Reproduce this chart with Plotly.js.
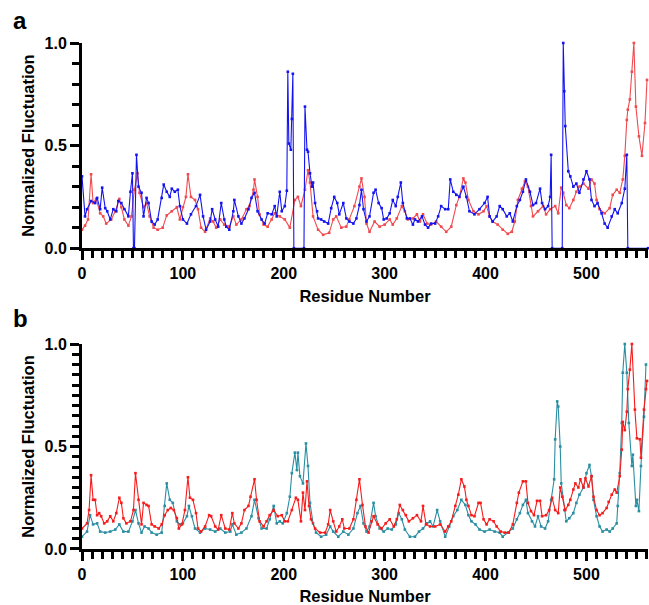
<!DOCTYPE html>
<html>
<head>
<meta charset="utf-8">
<script src="https://cdn.plot.ly/plotly-3.0.1.min.js"></script>
<style>html,body{margin:0;padding:0;background:#fff}#chart{width:649px;height:605px}</style>
</head>
<body>
<div id="chart"></div>
<script>
// Panel a: red series
const aRedX = [0,3,6,9,11,14,18,21,24,29,33,37,39,42,46,49,52,55,57,61,64,67,71,75,80,84,89,94,97,100,103,105,108,112,115,118,122,127,130,133,137,141,146,150,153,158,163,166,170,171,174,176,180,184,188,191,196,201,206,211,214,217,221,224,226,229,234,239,245,249,252,257,262,265,270,275,277,280,282,285,290,295,300,305,308,312,317,320,323,328,332,335,338,342,346,351,356,361,366,371,374,378,380,383,388,393,398,401,404,407,412,417,422,426,429,432,436,439,442,445,447,452,457,460,464,469,472,475,477,480,483,487,490,493,497,502,505,508,510,513,518,523,526,530,533,536,538,540,541,543,545,547,549,552,555,558,560];
const aRedY = [0.09,0.11,0.14,0.36,0.22,0.24,0.17,0.155,0.12,0.14,0.18,0.24,0.20,0.14,0.11,0.155,0.285,0.365,0.27,0.20,0.22,0.155,0.10,0.09,0.10,0.16,0.18,0.20,0.14,0.20,0.25,0.36,0.25,0.235,0.19,0.10,0.08,0.145,0.13,0.10,0.14,0.115,0.105,0.155,0.115,0.14,0.19,0.205,0.285,0.335,0.25,0.165,0.115,0.105,0.14,0.17,0.155,0.14,0.10,0.235,0.25,0.205,0.285,0.38,0.32,0.155,0.09,0.065,0.075,0.14,0.155,0.10,0.105,0.14,0.205,0.30,0.34,0.25,0.12,0.08,0.13,0.105,0.115,0.14,0.115,0.145,0.205,0.18,0.14,0.145,0.165,0.13,0.165,0.12,0.115,0.13,0.105,0.08,0.105,0.21,0.25,0.34,0.32,0.235,0.18,0.165,0.18,0.205,0.155,0.13,0.115,0.09,0.07,0.08,0.13,0.235,0.29,0.325,0.30,0.205,0.155,0.18,0.205,0.165,0.19,0.205,0.17,0.295,0.27,0.21,0.195,0.235,0.275,0.30,0.315,0.29,0.335,0.315,0.235,0.19,0.17,0.195,0.26,0.285,0.27,0.335,0.45,0.625,0.675,0.725,0.86,1.0,0.69,0.545,0.45,0.61,0.82];

// Panel a: blue series
const aBlueX = [0,3,5,9,13,15,18,20,23,25,28,31,34,36,39,42,46,48,50,51,52,54,56,59,61,64,66,69,72,75,79,81,84,87,89,92,95,97,100,104,108,113,117,120,123,127,129,132,135,138,141,143,146,150,151,155,158,161,165,168,171,174,178,181,184,188,191,193,196,198,201,203,204,205,207,208,209,210,220,221,223,224,226,228,229,231,233,234,237,240,244,247,250,253,255,259,262,265,269,272,275,277,279,282,285,289,291,294,297,299,302,305,308,311,313,316,318,322,325,328,330,333,337,340,343,346,350,353,356,360,363,365,368,371,374,378,381,384,389,394,399,402,404,407,411,414,417,421,424,427,431,434,437,440,444,447,450,454,456,459,462,464,465,466,476,477,478,479,482,484,487,490,493,497,500,503,505,508,511,515,518,521,525,528,531,535,538,540,541,561];
const aBlueY = [0.35,0.155,0.19,0.23,0.22,0.245,0.19,0.295,0.195,0.18,0.14,0.19,0.18,0.23,0.22,0.19,0.155,0.275,0.365,0,0,0.455,0.30,0.27,0.155,0.245,0.22,0.13,0.115,0.14,0.245,0.31,0.275,0.25,0.29,0.275,0.285,0.205,0.14,0.12,0.165,0.205,0.26,0.155,0.09,0.13,0.19,0.14,0.105,0.22,0.14,0.105,0.09,0.18,0.235,0.155,0.12,0.145,0.19,0.245,0.27,0.18,0.14,0.12,0.17,0.165,0.205,0.155,0.275,0.18,0.205,0.28,0.86,0.51,0.48,0.63,0.85,0,0,0.69,0.48,0.47,0.365,0.30,0.32,0.22,0.18,0.145,0.14,0.13,0.12,0.195,0.25,0.22,0.165,0.22,0.145,0.13,0.12,0.145,0.21,0.285,0.19,0.13,0.155,0.27,0.285,0.22,0.195,0.14,0.145,0.17,0.235,0.205,0.25,0.32,0.22,0.145,0.145,0.115,0.14,0.13,0.155,0.115,0.10,0.12,0.12,0.155,0.205,0.19,0.19,0.335,0.275,0.26,0.25,0.30,0.25,0.18,0.165,0.19,0.22,0.25,0.155,0.13,0.155,0.205,0.19,0.155,0.17,0.13,0.205,0.235,0.275,0.335,0.275,0.21,0.22,0.29,0.22,0.19,0.205,0.25,0.455,0,0,1.0,0.765,0.595,0.375,0.35,0.30,0.315,0.27,0.335,0.375,0.335,0.235,0.205,0.22,0.17,0.12,0.10,0.155,0.19,0.17,0.22,0.29,0.455,0,0];

// Panel b: red series
const bRedX = [0,5,7,9,11,13,15,17,19,22,25,28,31,34,37,39,41,44,48,51,53,56,59,61,64,66,69,72,76,79,82,85,88,91,94,96,99,102,105,107,110,113,115,118,122,126,128,132,135,138,142,146,149,151,155,158,161,165,167,171,173,176,180,183,186,190,194,198,201,204,208,212,214,217,219,221,223,225,227,231,236,241,244,246,249,252,255,258,260,265,269,272,275,278,281,284,287,289,293,297,301,305,309,312,315,318,321,324,328,332,336,338,341,345,350,355,360,363,366,370,373,376,379,381,383,386,389,393,395,398,401,404,408,411,415,419,423,427,431,433,437,440,442,445,448,451,454,456,460,463,466,469,472,474,476,479,482,484,487,489,492,494,497,499,502,505,507,510,513,516,520,522,525,528,530,533,535,536,538,540,541,543,545,548,550,553,554,557,559,560];
const bRedY = [0.10,0.125,0.19,0.36,0.24,0.24,0.165,0.175,0.16,0.125,0.135,0.16,0.135,0.175,0.25,0.225,0.15,0.125,0.135,0.19,0.37,0.24,0.12,0.225,0.215,0.21,0.12,0.11,0.10,0.12,0.165,0.19,0.20,0.19,0.15,0.10,0.12,0.19,0.35,0.25,0.24,0.175,0.10,0.085,0.11,0.165,0.16,0.11,0.095,0.165,0.10,0.095,0.175,0.125,0.10,0.125,0.19,0.21,0.255,0.34,0.24,0.135,0.11,0.135,0.165,0.19,0.16,0.165,0.135,0.135,0.19,0.25,0.24,0.135,0.275,0.19,0.33,0.21,0.145,0.10,0.08,0.08,0.12,0.19,0.135,0.085,0.11,0.145,0.10,0.10,0.145,0.24,0.34,0.215,0.11,0.08,0.135,0.16,0.12,0.10,0.125,0.145,0.11,0.145,0.215,0.19,0.165,0.135,0.15,0.165,0.135,0.21,0.12,0.11,0.11,0.12,0.085,0.11,0.135,0.21,0.265,0.34,0.305,0.24,0.21,0.165,0.16,0.225,0.225,0.145,0.12,0.145,0.135,0.11,0.085,0.08,0.08,0.12,0.225,0.275,0.33,0.33,0.225,0.185,0.165,0.235,0.235,0.16,0.165,0.19,0.25,0.19,0.175,0.30,0.255,0.19,0.215,0.24,0.29,0.32,0.30,0.34,0.30,0.345,0.305,0.355,0.255,0.19,0.165,0.175,0.20,0.23,0.265,0.29,0.275,0.355,0.485,0.62,0.58,0.67,0.78,0.875,1.0,0.68,0.54,0.535,0.445,0.68,0.78,0.82];

// Panel b: teal series
const bTealX = [0,5,8,11,15,18,23,28,33,37,41,46,50,53,56,59,62,66,69,74,79,82,84,87,90,94,97,100,104,106,109,112,117,122,127,132,137,142,147,149,153,158,163,168,171,175,178,183,186,190,193,196,199,203,206,208,211,213,214,216,219,222,224,226,229,232,237,242,246,249,254,259,264,269,273,276,279,282,285,289,291,295,299,303,307,311,314,317,320,325,330,334,338,342,345,348,352,355,360,364,368,372,376,380,383,386,390,394,399,404,409,414,417,422,427,431,434,437,440,442,446,449,452,455,459,462,465,468,469,471,472,474,475,478,480,483,487,490,493,497,500,503,505,507,510,513,516,520,523,526,530,531,533,535,536,538,540,542,545,546,549,550,552,554,557,559];
const bTealY = [0.06,0.085,0.165,0.12,0.125,0.085,0.08,0.085,0.095,0.12,0.085,0.085,0.135,0.19,0.125,0.08,0.11,0.10,0.08,0.07,0.08,0.21,0.32,0.24,0.225,0.135,0.12,0.125,0.16,0.21,0.16,0.10,0.08,0.10,0.095,0.085,0.10,0.08,0.085,0.12,0.07,0.08,0.10,0.16,0.24,0.15,0.10,0.10,0.145,0.21,0.125,0.135,0.125,0.175,0.255,0.37,0.47,0.385,0.47,0.355,0.32,0.515,0.405,0.225,0.125,0.08,0.06,0.07,0.11,0.085,0.06,0.085,0.07,0.10,0.175,0.21,0.125,0.085,0.11,0.225,0.16,0.10,0.085,0.10,0.095,0.12,0.175,0.145,0.095,0.06,0.06,0.085,0.10,0.125,0.135,0.11,0.19,0.135,0.06,0.11,0.16,0.19,0.24,0.215,0.165,0.135,0.12,0.095,0.085,0.095,0.085,0.08,0.06,0.08,0.10,0.145,0.175,0.215,0.24,0.175,0.135,0.11,0.16,0.11,0.10,0.135,0.24,0.34,0.535,0.72,0.695,0.50,0.32,0.19,0.135,0.15,0.175,0.225,0.265,0.30,0.37,0.41,0.355,0.24,0.16,0.11,0.085,0.095,0.085,0.10,0.125,0.21,0.37,0.615,0.86,1.0,0.86,0.615,0.405,0.46,0.21,0.24,0.185,0.405,0.645,0.90];

const xTickStep = 100;   // labelled ticks 0,100,...,500
const yTickStep = 0.5;   // labelled ticks 0.0, 0.5, 1.0

const FONT = 'Liberation Sans, Arial, Helvetica, sans-serif';

function tr(x, y, color, xa, ya) {
  return {
    x: x, y: y, xaxis: xa, yaxis: ya, type: 'scatter', mode: 'lines+markers',
    line: {color: color, width: 1.1},
    marker: {color: color, size: 2.6, symbol: 'square'},
    cliponaxis: false, showlegend: false, hoverinfo: 'skip'
  };
}

const data = [
  tr(aRedX, aRedY, '#f04a4f', 'x', 'y'),
  tr(aBlueX, aBlueY, '#1414f0', 'x', 'y'),
  tr(bTealX, bTealY, '#2a8ea2', 'x2', 'y2'),
  tr(bRedX, bRedY, '#f71c1c', 'x2', 'y2')
];

function xax(anchor) {
  return {
    anchor: anchor, domain: [0, 1], range: [0, 561],
    tickmode: 'linear', tick0: 0, dtick: xTickStep,
    ticks: 'outside', ticklen: 9, tickwidth: 3, tickcolor: 'black',
    minor: {dtick: 10, ticks: 'outside', ticklen: 7, tickwidth: 3, tickcolor: 'black'},
    showline: true, linewidth: 3, linecolor: 'black', showgrid: false, zeroline: false,
    tickfont: {family: FONT, size: 16, color: 'black', weight: 'bold'},
    title: {text: 'Residue Number', font: {family: FONT, size: 16.5, color: 'black', weight: 'bold'}, standoff: 10}
  };
}
function yax(anchor, dom, minorD) {
  return {
    anchor: anchor, domain: dom, range: [0, 1],
    tickmode: 'linear', tick0: 0, dtick: yTickStep, tickformat: '.1f',
    ticks: 'outside', ticklen: 9, tickwidth: 3, tickcolor: 'black',
    minor: {dtick: minorD, ticks: 'outside', ticklen: 7, tickwidth: 3, tickcolor: 'black'},
    showline: true, linewidth: 3, linecolor: 'black', showgrid: false, zeroline: false,
    tickfont: {family: FONT, size: 16, color: 'black', weight: 'bold'},
    title: {text: 'Normalized Fluctuation', font: {family: FONT, size: 16.5, color: 'black', weight: 'bold'}, standoff: 6}
  };
}

const layout = {
  width: 649, height: 605,
  margin: {l: 82, r: 1, t: 43, b: 56},
  paper_bgcolor: 'white', plot_bgcolor: 'white',
  xaxis: xax('y'),
  yaxis: yax('x', [0.5945, 1], 0.1),
  xaxis2: xax('y2'),
  yaxis2: yax('x2', [0, 0.4051], 0.05),
  annotations: [
    {text: 'a', xref: 'paper', yref: 'paper', x: -0.125, y: 1.045, xanchor: 'left', yanchor: 'middle', showarrow: false,
     font: {family: FONT, size: 24, color: 'black', weight: 'bold'}},
    {text: 'b', xref: 'paper', yref: 'paper', x: -0.125, y: 0.455, xanchor: 'left', yanchor: 'middle', showarrow: false,
     font: {family: FONT, size: 24, color: 'black', weight: 'bold'}}
  ]
};

Plotly.newPlot('chart', data, layout, {staticPlot: true, displayModeBar: false});
</script>
</body>
</html>
